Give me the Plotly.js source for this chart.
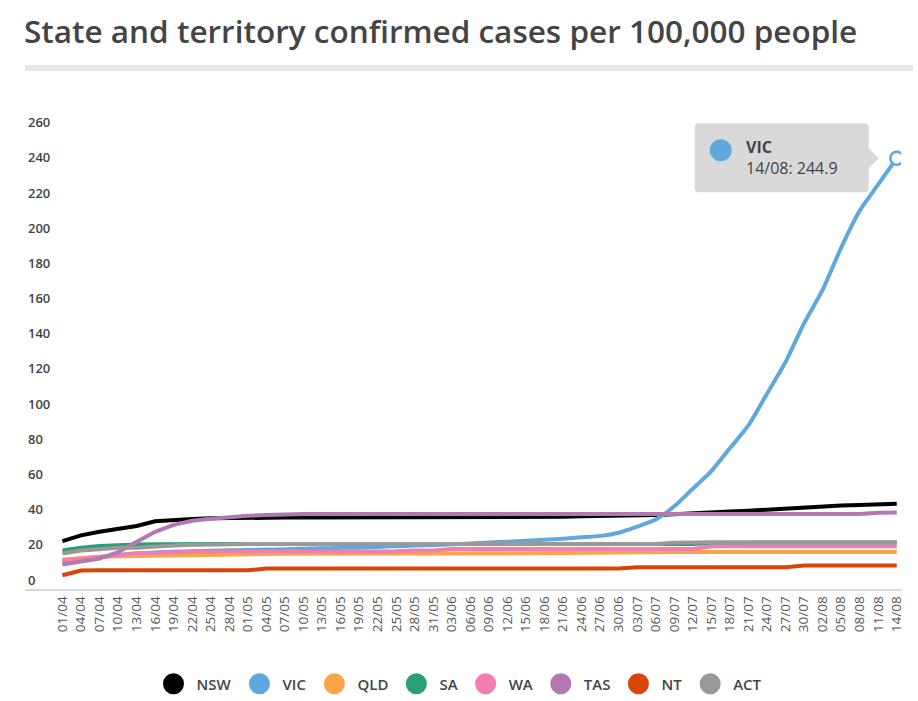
<!DOCTYPE html>
<html>
<head>
<meta charset="utf-8">
<script src="https://cdn.plot.ly/plotly-3.0.1.min.js"></script>
<style>
  html, body { margin: 0; padding: 0; background: #fff; }
  #chart { width: 918px; height: 701px; }
</style>
</head>
<body>
<div id="chart"></div>
<script>
const dates = ['01/04','04/04','07/04','10/04','13/04','16/04','19/04','22/04','25/04','28/04',
  '01/05','04/05','07/05','10/05','13/05','16/05','19/05','22/05','25/05','28/05','31/05',
  '03/06','06/06','09/06','12/06','15/06','18/06','21/06','24/06','27/06','30/06',
  '03/07','06/07','09/07','12/07','15/07','18/07','21/07','24/07','27/07','30/07',
  '02/08','05/08','08/08','11/08','14/08'];

const nsw = [27.2,30.5,32.5,34.3,35.8,38.5,39.3,39.8,40.2,40.4,
  40.5,40.5,40.6,40.6,40.6,40.6,40.6,40.6,40.6,40.6,40.6,
  41.0,41.0,41.0,41.0,41.0,41.0,41.1,41.3,41.4,41.5,
  41.7,42.0,42.5,43.2,43.7,44.1,44.5,45.1,45.7,46.5,
  47.0,47.4,47.7,48.3,48.5];
const vic = [14.5,16.5,18.0,19.3,20.2,20.8,21.2,21.5,21.8,22.0,
  22.2,22.4,22.6,22.9,23.1,23.3,23.5,23.9,24.3,24.7,25.0,
  25.4,25.8,26.4,26.9,27.5,28.0,28.6,29.4,30.2,32.0,
  35.5,39.5,47.0,57.0,67.0,80.0,93.0,111.0,129.0,151.0,
  170.0,194.0,215.0,230.0,244.9];
const qld = [16.8,17.8,18.3,18.6,18.8,19.0,19.2,19.4,19.6,19.7,
  19.8,19.9,20.0,20.0,20.0,20.0,20.0,20.0,20.0,20.0,20.0,
  20.0,20.0,20.0,20.0,20.0,20.2,20.4,20.6,20.8,21.0,
  21.1,21.1,21.1,21.1,21.1,21.1,21.1,21.1,21.1,21.1,
  21.1,21.1,21.1,21.1,21.1];
const sa = [21.9,23.5,24.5,25.0,25.3,25.4,25.5,25.6,25.6,25.6,
  25.6,25.6,25.6,25.6,25.6,25.6,25.6,25.6,25.6,25.6,25.6,
  25.6,25.6,25.6,25.6,25.6,25.6,25.6,25.6,25.6,25.6,
  25.6,25.5,25.5,25.6,26.2,26.3,26.3,26.3,26.3,26.3,
  26.3,26.3,26.3,26.3,26.3];
const wa = [16.0,17.0,18.0,19.3,20.3,20.6,21.0,21.3,21.3,21.3,
  21.3,21.3,21.3,21.3,21.3,21.3,21.3,21.3,21.5,21.9,21.9,
  22.8,22.8,22.8,22.8,22.8,22.8,22.8,22.8,22.8,22.8,
  22.8,22.8,22.8,22.8,24.3,24.3,24.3,24.3,24.3,24.3,
  24.3,24.3,24.3,24.3,24.3];
const tas = [13.9,15.8,17.3,21.0,27.0,32.5,36.5,38.8,40.0,40.9,
  41.6,42.1,42.5,42.7,42.7,42.7,42.7,42.7,42.7,42.7,42.7,
  42.7,42.7,42.7,42.7,42.7,42.7,42.7,42.7,42.7,42.7,
  42.7,42.7,42.7,42.7,42.7,42.7,42.7,42.7,42.7,42.7,
  42.7,42.7,42.7,43.3,43.5];
const nt = [7.8,10.5,10.7,10.7,10.7,10.7,10.7,10.7,10.7,10.7,
  10.7,11.6,11.6,11.6,11.6,11.6,11.6,11.6,11.6,11.6,11.6,
  11.6,11.6,11.6,11.6,11.6,11.6,11.6,11.6,11.6,11.6,
  12.3,12.3,12.3,12.3,12.3,12.3,12.3,12.3,12.4,13.4,
  13.4,13.4,13.4,13.4,13.4];
const act = [20.2,21.9,22.6,23.5,23.5,24.3,24.8,25.2,25.5,25.6,
  25.6,25.6,25.6,25.6,25.6,25.6,25.6,25.6,25.6,25.6,25.6,
  25.6,25.6,25.6,25.6,25.6,25.6,25.6,25.6,25.6,25.6,
  25.6,25.6,26.3,26.6,26.6,26.6,26.6,26.6,26.6,26.6,
  26.6,26.6,26.6,26.6,26.6];

const seriesNames = ['NSW','VIC','QLD','SA','WA','TAS','NT','ACT'];
const seriesValues = [nsw, vic, qld, sa, wa, tas, nt, act];
const seriesColors = ['#000000','#5fa8dc','#fba54a','#2a9e78','#f07fb0','#b278b3','#d84505','#999999'];

const FONT = 'Open Sans, Noto Sans, sans-serif';
const TEXT = '#444444';

const traces = [];
seriesNames.forEach((name, k) => {
  traces.push({
    type: 'scatter', mode: 'lines', name: name,
    x: dates, y: seriesValues[k],
    line: { color: seriesColors[k], width: 4, shape: name === 'VIC' ? 'spline' : 'linear', smoothing: 0.6 },
    legendgroup: name, showlegend: false, hoverinfo: 'skip'
  });
});
// legend entries (big dots)
seriesNames.forEach((name, k) => {
  traces.push({
    type: 'scatter', mode: 'markers', name: name,
    x: [null], y: [null], legendgroup: name,
    marker: { color: seriesColors[k], size: 16, line: { color: seriesColors[k], width: 5 } },
    hoverinfo: 'skip'
  });
});
const lastDate = dates[dates.length - 1];
const lastVic = vic[vic.length - 1];
traces.push({
  type: 'scatter', mode: 'markers', x: [lastDate], y: [lastVic], showlegend: false,
  marker: { color: '#ffffff', size: 13, line: { color: seriesColors[1], width: 2.5 } },
  hoverinfo: 'skip'
});

const layout = {
  width: 918, height: 701,
  margin: { l: 25, r: 17, t: 100, b: 112 },
  paper_bgcolor: '#ffffff', plot_bgcolor: '#ffffff',
  font: { family: FONT, color: TEXT },
  title: {
    text: 'State and territory confirmed cases per 100,000 people',
    font: { family: FONT, size: 31.5, weight: 600, color: TEXT },
    x: 24 / 918, xref: 'container', xanchor: 'left',
    y: 1 - 32 / 701, yref: 'container', yanchor: 'middle'
  },
  xaxis: {
    type: 'category', range: [-2.02, 45.23],
    tickmode: 'array', tickvals: dates, ticktext: dates,
    tickangle: -90, ticks: '', showgrid: false, zeroline: false,
    showline: true, linecolor: '#d9d9d9', linewidth: 2,
    tickfont: { family: FONT, size: 13.5, color: '#555555' }
  },
  yaxis: {
    range: [0, 278], dtick: 20, tick0: 0, showgrid: false, zeroline: false,
    showline: false, ticks: '', ticklabelposition: 'inside', ticklabelshift: -9,
    tickvals: [0,20,40,60,80,100,120,140,160,180,200,220,240,260],
    tickfont: { family: FONT, size: 13, weight: 600, color: TEXT }
  },
  showlegend: true,
  legend: {
    orientation: 'h', x: 0.5, xanchor: 'center', xref: 'container',
    y: 1 - 684 / 701, yref: 'container', yanchor: 'middle',
    font: { family: FONT, size: 15, weight: 600, color: TEXT },
    itemsizing: 'trace', itemwidth: 36, itemclick: false, itemdoubleclick: false
  },
  hovermode: false,
  shapes: [
    { type: 'rect', xref: 'paper', yref: 'paper', x0: 0, x1: (913 - 25) / 876,
      y0: (589 - 71) / 489, y1: (589 - 65) / 489, fillcolor: '#e6e6e6', line: { width: 0 }, layer: 'below' },
    { type: 'path', xref: 'x', yref: 'y', xsizemode: 'pixel', ysizemode: 'pixel',
      xanchor: lastDate, yanchor: lastVic,
      path: 'M-198,35 L-32,35 Q-28,35 -28,31 L-28,10 L-18,0 L-28,-10 L-28,-30 Q-28,-34 -32,-34 L-198,-34 Q-202,-34 -202,-30 L-202,31 Q-202,35 -198,35 Z',
      fillcolor: '#d9d9d9', line: { width: 0 }, layer: 'above' },
    { type: 'circle', xref: 'x', yref: 'y', xsizemode: 'pixel', ysizemode: 'pixel',
      xanchor: lastDate, yanchor: lastVic, x0: -187, x1: -165, y0: -3, y1: 19,
      fillcolor: seriesColors[1], line: { width: 0 }, layer: 'above' }
  ],
  annotations: [
    { x: lastDate, y: lastVic, xref: 'x', yref: 'y', showarrow: false,
      xanchor: 'left', yanchor: 'middle', xshift: -153, yshift: 1, align: 'left',
      text: '<b>' + seriesNames[1] + '</b><br>' + lastDate + ': ' + lastVic.toFixed(1),
      font: { family: FONT, size: 16, color: TEXT } }
  ]
};

Plotly.newPlot('chart', traces, layout, { displayModeBar: false, staticPlot: true });
</script>
</body>
</html>
